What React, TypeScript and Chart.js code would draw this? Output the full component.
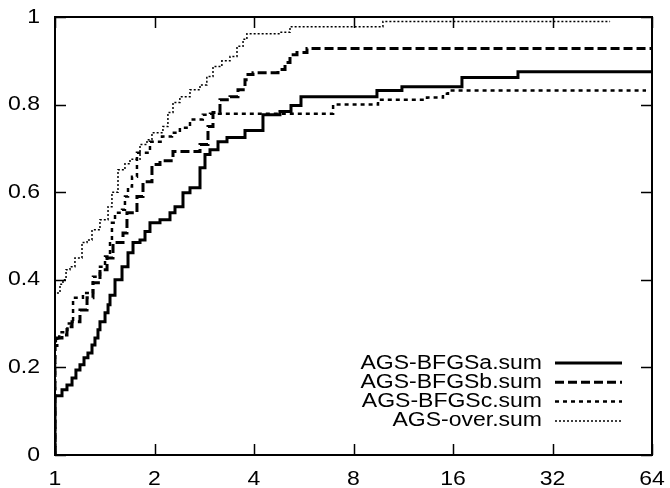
import React, { useEffect, useRef } from 'react';
import { Chart, registerables } from 'chart.js';
Chart.register(...registerables);

// Axis ticks
const xTicks = [1, 2, 4, 8, 16, 32, 64];
const yTicks = [0, 0.2, 0.4, 0.6, 0.8, 1];
const yTickLabels = ['0', '0.2', '0.4', '0.6', '0.8', '1'];

// Series names
const seriesNames = ['AGS-BFGSa.sum', 'AGS-BFGSb.sum', 'AGS-BFGSc.sum', 'AGS-over.sum'];

// AGS-BFGSa.sum
const tauA = [1, 1, 1.05, 1.087, 1.126, 1.157, 1.19, 1.224, 1.258, 1.294, 1.321, 1.349, 1.368, 1.417, 1.447, 1.467, 1.519, 1.595, 1.663, 1.722, 1.808, 1.872, 1.938, 2.078, 2.228, 2.307, 2.439, 2.561, 2.746, 2.843, 2.944, 3.113, 3.314, 3.757, 4.258, 4.793, 5.176, 5.549, 9.42, 11.21, 17.03, 25.16, 64];
const rhoA = [0, 0.135, 0.149, 0.16, 0.176, 0.194, 0.206, 0.222, 0.233, 0.251, 0.267, 0.286, 0.304, 0.325, 0.343, 0.365, 0.4, 0.43, 0.462, 0.485, 0.491, 0.51, 0.53, 0.537, 0.553, 0.567, 0.599, 0.61, 0.656, 0.686, 0.697, 0.715, 0.725, 0.741, 0.777, 0.784, 0.798, 0.818, 0.832, 0.841, 0.862, 0.875, 0.875];

// AGS-BFGSb.sum
const tauB = [1, 1, 1.014, 1.05, 1.087, 1.126, 1.19, 1.25, 1.303, 1.368, 1.437, 1.498, 1.606, 1.651, 1.77, 1.846, 1.965, 2.078, 2.275, 2.746, 2.903, 3.006, 3.156, 3.384, 3.578, 3.757, 3.836, 3.972, 4.728, 4.965, 5.14, 5.397, 5.786, 64];
const rhoB = [0, 0.25, 0.267, 0.274, 0.293, 0.304, 0.331, 0.359, 0.393, 0.423, 0.45, 0.485, 0.507, 0.553, 0.59, 0.624, 0.663, 0.672, 0.693, 0.709, 0.75, 0.782, 0.811, 0.818, 0.834, 0.857, 0.869, 0.873, 0.88, 0.896, 0.914, 0.919, 0.928, 0.928];

// AGS-BFGSc.sum
const tauC = [1, 1, 1.03, 1.09, 1.134, 1.215, 1.303, 1.368, 1.417, 1.467, 1.487, 1.519, 1.595, 1.628, 1.663, 1.71, 1.77, 1.938, 2.107, 2.259, 2.387, 2.561, 2.8, 2.944, 6.94, 9.49, 13.35, 14.92, 15.45, 61.4];
const rhoC = [0, 0.26, 0.28, 0.3, 0.359, 0.37, 0.407, 0.43, 0.453, 0.487, 0.53, 0.553, 0.56, 0.59, 0.613, 0.635, 0.69, 0.715, 0.727, 0.736, 0.747, 0.766, 0.777, 0.779, 0.8, 0.811, 0.816, 0.825, 0.832, 0.832];

// AGS-over.sum
const tauO = [1, 1, 1.0355, 1.057, 1.08, 1.11, 1.149, 1.207, 1.25, 1.294, 1.368, 1.447, 1.487, 1.551, 1.628, 1.686, 1.808, 1.898, 1.965, 2.121, 2.196, 2.275, 2.387, 2.561, 2.746, 2.88, 3.006, 3.198, 3.384, 3.553, 3.706, 3.807, 4.793, 5.14, 9.82, 47.8];
const rhoO = [0, 0.37, 0.39, 0.4, 0.423, 0.43, 0.45, 0.485, 0.491, 0.514, 0.537, 0.567, 0.6, 0.651, 0.665, 0.675, 0.709, 0.72, 0.736, 0.75, 0.782, 0.805, 0.818, 0.834, 0.845, 0.864, 0.887, 0.9, 0.91, 0.933, 0.949, 0.962, 0.965, 0.978, 0.99, 0.99];

const seriesTau = [tauA, tauB, tauC, tauO];
const seriesRho = [rhoA, rhoB, rhoC, rhoO];

const lineStyles = [
  { width: 3, dash: [] as number[] },
  { width: 3, dash: [9, 4] },
  { width: 2.5, dash: [4, 4] },
  { width: 1.5, dash: [2, 2] },
];

const FONT = '20px "Liberation Sans", Arial, sans-serif';
const SX = 1.15;

function drawText(ctx: CanvasRenderingContext2D, text: string, x: number, y: number, align: 'left' | 'right' | 'center') {
  const w = ctx.measureText(text).width * SX;
  let x0 = x;
  if (align === 'right') x0 = x - w;
  else if (align === 'center') x0 = x - w / 2;
  ctx.save();
  ctx.translate(x0, y);
  ctx.scale(SX, 1);
  ctx.textAlign = 'left';
  ctx.fillText(text, 0, 0);
  ctx.restore();
}

const framePlugin = {
  id: 'gnuplotFrame',
  afterDraw(chart: any) {
    const { ctx, chartArea } = chart;
    const { left, right, top, bottom } = chartArea;
    const xs = chart.scales.x;
    const ys = chart.scales.y;
    ctx.save();
    ctx.strokeStyle = '#000';
    ctx.fillStyle = '#000';
    ctx.setLineDash([]);
    // frame
    ctx.lineWidth = 2;
    ctx.strokeRect(left, top, right - left, bottom - top);
    // ticks
    const tl = 11;
    ctx.lineWidth = 1.5;
    ctx.beginPath();
    xTicks.forEach((v) => {
      const px = Math.round(xs.getPixelForValue(v)) + 0.5;
      ctx.moveTo(px, bottom);
      ctx.lineTo(px, bottom - tl);
      ctx.moveTo(px, top);
      ctx.lineTo(px, top + tl);
    });
    yTicks.forEach((v) => {
      const py = Math.round(ys.getPixelForValue(v)) + 0.5;
      ctx.moveTo(left, py);
      ctx.lineTo(left + tl, py);
      ctx.moveTo(right, py);
      ctx.lineTo(right - tl, py);
    });
    ctx.stroke();
    // labels
    ctx.font = FONT;
    ctx.textBaseline = 'middle';
    yTicks.forEach((v, i) => {
      drawText(ctx, yTickLabels[i], left - 15, ys.getPixelForValue(v), 'right');
    });
    ctx.textBaseline = 'alphabetic';
    xTicks.forEach((v) => {
      drawText(ctx, String(v), xs.getPixelForValue(v), bottom + 30, 'center');
    });
    // legend
    ctx.textBaseline = 'middle';
    seriesNames.forEach((name, i) => {
      const y = bottom - 92 + i * 19.3;
      drawText(ctx, name, right - 110, y, 'right');
      const st = lineStyles[i];
      ctx.lineWidth = st.width;
      ctx.setLineDash(st.dash);
      ctx.beginPath();
      ctx.moveTo(right - 97, y);
      ctx.lineTo(right - 30, y);
      ctx.stroke();
    });
    ctx.restore();
  },
};

export default function App() {
  const ref = useRef<HTMLCanvasElement>(null);
  useEffect(() => {
    document.body.style.margin = '0';
    const datasets = seriesNames.map((name, i) => ({
      label: name,
      data: seriesTau[i].map((t, j) => ({ x: t, y: seriesRho[i][j] })),
      borderColor: '#000',
      backgroundColor: '#000',
      borderWidth: lineStyles[i].width,
      borderDash: lineStyles[i].dash,
      stepped: true,
      pointRadius: 0,
      fill: false,
    }));
    const chart = new Chart(ref.current as HTMLCanvasElement, {
      type: 'line',
      data: { datasets },
      options: {
        animation: false,
        responsive: false,
        maintainAspectRatio: false,
        devicePixelRatio: 1,
        layout: { padding: { top: 17, right: 18, left: 0, bottom: 0 } },
        plugins: { legend: { display: false }, tooltip: { enabled: false } },
        scales: {
          x: {
            type: 'logarithmic',
            min: 1,
            max: 64,
            afterBuildTicks: (s: any) => { s.ticks = xTicks.map((v) => ({ value: v })); },
            afterFit: (s: any) => { s.height = 33; },
            ticks: { display: false },
            grid: { display: false },
            border: { display: false },
          },
          y: {
            type: 'linear',
            min: 0,
            max: 1,
            afterFit: (s: any) => { s.width = 55; },
            ticks: { display: false },
            grid: { display: false },
            border: { display: false },
          },
        },
      } as any,
      plugins: [framePlugin],
    });
    return () => chart.destroy();
  }, []);
  return (
    <div style={{ position: 'absolute', left: 0, top: 0, width: 670, height: 488, background: '#fff' }}>
      <canvas ref={ref} width={670} height={488} style={{ display: 'block' }} />
    </div>
  );
}
